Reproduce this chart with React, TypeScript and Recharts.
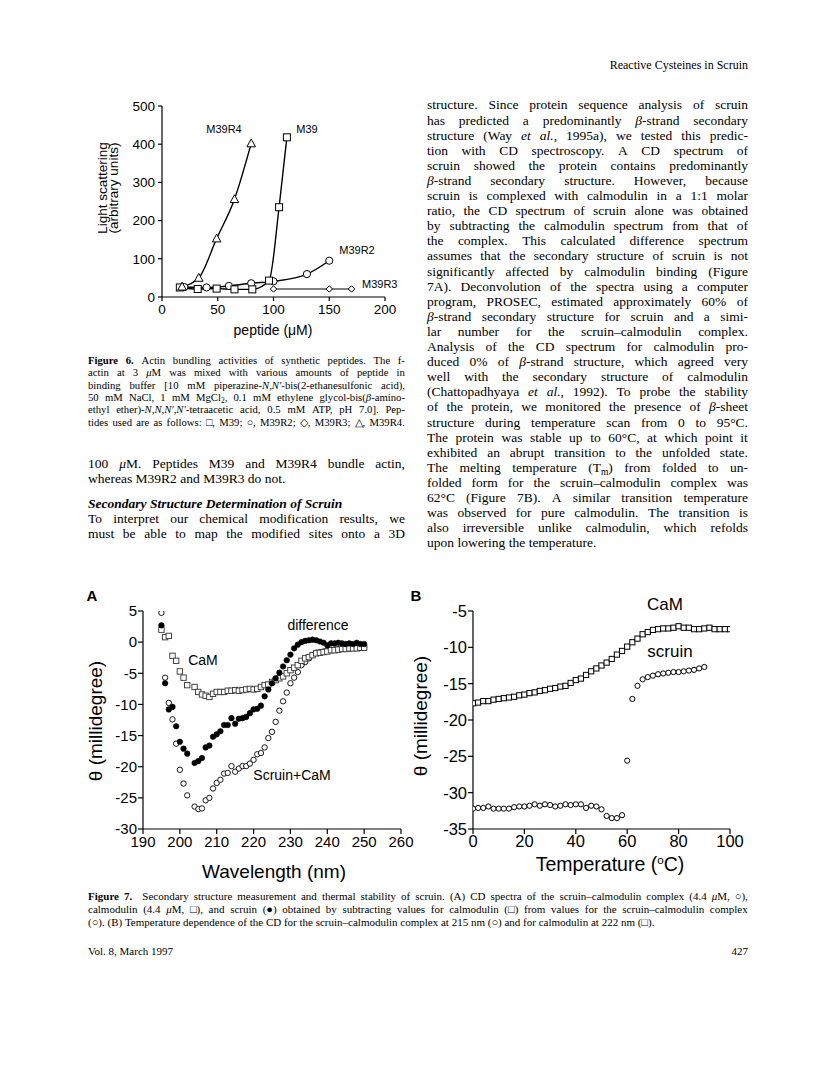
import React from 'react';
import { LineChart, Line, ScatterChart, Scatter, XAxis, YAxis } from 'recharts';

// ---------- Figure 6: actin bundling (light scattering vs peptide µM) ----------
const m39 = [
  { x: 16, y: 25 }, { x: 32, y: 21 }, { x: 49, y: 22 }, { x: 65, y: 20 },
  { x: 81, y: 20 }, { x: 96, y: 43 }, { x: 105, y: 235 }, { x: 112, y: 418 },
];
const m39r2 = [
  { x: 20, y: 26 }, { x: 40, y: 25 }, { x: 60, y: 29 }, { x: 80, y: 36 },
  { x: 100, y: 41 }, { x: 130, y: 60 }, { x: 150, y: 95 },
];
const m39r3 = [{ x: 100, y: 21 }, { x: 150, y: 21 }, { x: 170, y: 21 }];
const m39r4 = [
  { x: 18, y: 27 }, { x: 33, y: 50 }, { x: 49, y: 153 }, { x: 65, y: 256 }, { x: 80, y: 402 },
];
const fig6XTicks = [0, 50, 100, 150, 200];
const fig6YTicks = [0, 100, 200, 300, 400, 500];

// ---------- Figure 7A: CD spectra ----------
const wavelengthNm = [
  195, 196, 197, 198, 199, 200, 201, 202, 204, 205, 206, 207, 208, 209, 210, 211, 212, 213, 214,
  215, 216, 217, 218, 219, 220, 221, 222, 223, 224, 225, 226, 227, 228, 229, 230, 231, 232, 233,
  234, 235, 236, 237, 238, 239, 240, 241, 242, 243, 244, 245, 246, 247, 248, 249, 250,
];
const scruinCaM = [
  4.7, -5.7, -9.75, -12.4, -16.3, -20.5, -22.7, -24.6, -26.4, -26.8, -26.7, -25.4, -25.0, -23.5,
  -22.6, -22.1, -21.1, -21.0, -19.9, -20.8, -20.3, -19.9, -19.9, -19.5, -18.9, -18.0, -17.8, -16.9,
  -15.4, -14.4, -12.8, -11.0, -9.5, -8.1, -6.6, -5.7, -4.8, -3.7, -3.2, -2.6, -2.1, -1.7, -1.6,
  -1.5, -1.4, -1.3, -1.2, -1.1, -1.1, -1.0, -1.0, -0.9, -0.9, -0.8, -0.8,
];
const calmodulin = [
  2.0, 0.8, 1.0, -2.2, -3.0, -4.7, -5.7, -6.9, -7.2, -8.0, -8.4, -8.6, -8.8, -8.3, -8.0, -8.0,
  -8.0, -7.8, -7.8, -7.7, -7.8, -7.7, -7.6, -7.5, -7.6, -7.5, -7.2, -6.9, -6.8, -6.4, -6.1, -5.8,
  -5.5, -5.0, -4.5, -4.1, -3.7, -3.0, -2.6, -2.4, -2.1, -1.8, -1.7, -1.6, -1.5, -1.3, -1.3, -1.2,
  -1.1, -1.1, -1.0, -1.0, -1.0, -0.9, -0.9,
];
const difference = [
  2.7, -6.6, -10.8, -10.4, -13.5, -16.0, -17.1, -17.9, -19.4, -19.1, -18.6, -16.9, -16.6, -15.2,
  -14.8, -14.3, -13.3, -13.3, -12.2, -13.1, -12.3, -12.2, -12.0, -11.4, -10.8, -10.7, -10.2, -8.7,
  -7.6, -6.6, -5.8, -4.9, -3.9, -2.9, -2.0, -1.0, -0.4, 0.0, 0.2, 0.3, 0.4, 0.3, 0.1, -0.1, -0.5,
  -0.2, -0.2, -0.1, -0.2, -0.3, -0.2, -0.3, -0.1, -0.3, -0.3,
];
const fig7aXTicks = [190, 200, 210, 220, 230, 240, 250, 260];
const fig7aYTicks = [-30, -25, -20, -15, -10, -5, 0, 5];

// ---------- Figure 7B: thermal melt ----------
const tempCaM = [
  0, 2, 4, 6, 8, 10, 12, 14, 16, 18, 20, 22, 24, 26, 28, 30, 32, 34, 36, 38, 40, 42, 44, 46, 48,
  50, 52, 54, 56, 58, 60, 62, 64, 66, 68, 70, 72, 74, 76, 78, 80, 82, 84, 86, 88, 90, 92, 94, 96,
  98, 100,
];
const thetaCaM = [
  -17.7, -17.6, -17.4, -17.4, -17.2, -17.1, -17.0, -16.9, -16.8, -16.6, -16.5, -16.3, -16.2, -16.0,
  -15.9, -15.7, -15.6, -15.4, -15.3, -14.9, -14.5, -14.3, -13.8, -13.3, -12.9, -12.5, -12.1, -11.6,
  -11.0, -10.5, -9.9, -9.3, -8.8, -8.2, -7.9, -7.6, -7.5, -7.4, -7.4, -7.3, -7.1, -7.3, -7.3, -7.5,
  -7.5, -7.4, -7.3, -7.5, -7.5, -7.5, -7.5,
];
const tempScruin = [
  0, 2, 4, 6, 8, 10, 12, 14, 16, 18, 20, 22, 24, 26, 28, 30, 32, 34, 36, 38, 40, 42, 44, 46, 48,
  50, 52, 54, 56, 58, 60, 62, 64, 66, 68, 70, 72, 74, 76, 78, 80, 82, 84, 86, 88, 90,
];
const thetaScruin = [
  -32.2, -32.1, -32.1, -31.9, -32.2, -32.2, -32.2, -32.2, -32.0, -31.9, -31.9, -31.8, -31.6, -31.8,
  -31.6, -31.7, -31.9, -31.8, -31.6, -31.7, -31.6, -31.6, -32.1, -31.8, -31.9, -32.3, -33.2, -33.5,
  -33.5, -33.1, -25.6, -17.1, -15.3, -14.4, -14.1, -13.9, -13.7, -13.6, -13.5, -13.4, -13.4, -13.3,
  -13.2, -13.1, -12.9, -12.7,
];
const fig7bXTicks = [0, 20, 40, 60, 80, 100];
const fig7bYTicks = [-35, -30, -25, -20, -15, -10, -5];

const pts = (xs: number[], ys: number[]) => xs.map((x, i) => ({ x, y: ys[i] }));
const specScruinCaM = pts(wavelengthNm, scruinCaM);
const specCaM = pts(wavelengthNm, calmodulin);
const specDiff = pts(wavelengthNm, difference);
const meltCaM = pts(tempCaM, thetaCaM);
const meltScruin = pts(tempScruin, thetaScruin);

const SANS = '"Liberation Sans", Arial, Helvetica, sans-serif';
const SERIF = '"Liberation Serif", "Times New Roman", serif';

// ---------- marker shapes ----------
const squareDot = (size: number, stroke: string, sw: number, tag: string) => (p: any) => (
  <rect key={`${tag}-${p.index}`} x={p.cx - size / 2} y={p.cy - size / 2} width={size} height={size}
    fill="#fff" stroke={stroke} strokeWidth={sw} />
);
const circleDot = (r: number, fill: string, sw: number, tag: string) => (p: any) => (
  <circle key={`${tag}-${p.index}`} cx={p.cx} cy={p.cy} r={r} fill={fill} stroke="#000" strokeWidth={sw} />
);
const triDot = (s: number, tag: string) => (p: any) => (
  <polygon key={`${tag}-${p.index}`}
    points={`${p.cx},${p.cy - s} ${p.cx + s * 0.95},${p.cy + s * 0.75} ${p.cx - s * 0.95},${p.cy + s * 0.75}`}
    fill="#fff" stroke="#000" strokeWidth={1} />
);
const diaDot = (s: number, tag: string) => (p: any) => (
  <polygon key={`${tag}-${p.index}`}
    points={`${p.cx},${p.cy - s} ${p.cx + s},${p.cy} ${p.cx},${p.cy + s} ${p.cx - s},${p.cy}`}
    fill="#fff" stroke="#000" strokeWidth={1} />
);

// ---------- text helpers ----------
function rich(s: string) {
  const parts = s.split(/(_[^_]+_|~[^~]+~|\*[^*]+\*)/).filter((p) => p !== '');
  return parts.map((p, i) => {
    if (p.length > 2 && p[0] === '_' && p[p.length - 1] === '_') return <i key={i}>{p.slice(1, -1)}</i>;
    if (p.length > 2 && p[0] === '*' && p[p.length - 1] === '*') return <b key={i}>{p.slice(1, -1)}</b>;
    if (p.length > 2 && p[0] === '~' && p[p.length - 1] === '~')
      return <span key={i} style={{ fontSize: '0.7em', position: 'relative', top: '0.3em' }}>{p.slice(1, -1)}</span>;
    return <React.Fragment key={i}>{p}</React.Fragment>;
  });
}

function JLine(props: { text: string; x: number; y: number; w: number; fs: number; lh: number; last?: boolean; style?: any }) {
  const { text, x, y, w, fs, lh, last, style } = props;
  const words = text.split(' ');
  return (
    <div style={{
      position: 'absolute', left: x, top: y - lh / 2, width: w, height: lh, lineHeight: `${lh}px`,
      fontSize: fs, fontFamily: SERIF, display: 'flex', justifyContent: last ? 'flex-start' : 'space-between',
      whiteSpace: 'pre', color: '#000', ...style,
    }}>
      {words.map((wd, i) => (
        <span key={i} style={{ marginRight: last && i < words.length - 1 ? '0.25em' : 0 }}>{rich(wd)}</span>
      ))}
    </div>
  );
}

function T(props: { x: number; y: number; fs: number; children: any; anchor?: string; font?: string; weight?: any; rotate?: number; style?: any }) {
  const { x, y, fs, children, anchor = 'middle', font = SANS, weight, rotate, style } = props;
  const tx = anchor === 'middle' ? '-50%' : anchor === 'end' ? '-100%' : '0';
  return (
    <div style={{
      position: 'absolute', left: x, top: y, transform: `translate(${tx}, -50%)${rotate ? ` rotate(${rotate}deg)` : ''}`,
      fontSize: fs, fontFamily: font, fontWeight: weight, whiteSpace: 'nowrap', lineHeight: 1, color: '#000', ...style,
    }}>{children}</div>
  );
}

const axisStroke = { stroke: '#000', strokeWidth: 1.2 };

function Fig6() {
  const tick = { fontSize: 13.5, fontFamily: SANS, fill: '#000' };
  return (
    <div style={{ position: 'absolute', left: 90, top: 95 }}>
      <LineChart width={320} height={250} margin={{ top: 11, right: 25, bottom: 18, left: 32 }}>
        <XAxis type="number" dataKey="x" domain={[0, 200]} ticks={fig6XTicks} interval={0} tick={tick}
          tickLine={axisStroke} axisLine={axisStroke} tickSize={4} tickMargin={3} height={30} allowDataOverflow />
        <YAxis type="number" dataKey="y" domain={[0, 500]} ticks={fig6YTicks} interval={0} tick={tick}
          tickLine={axisStroke} axisLine={axisStroke} tickSize={4} tickMargin={3} width={40} allowDataOverflow />
        <Line data={m39r3} dataKey="y" type="linear" stroke="#000" strokeWidth={1.2} dot={diaDot(3.2, 'r3')} isAnimationActive={false} />
        <Line data={m39r2} dataKey="y" type="monotone" stroke="#000" strokeWidth={1.4} dot={circleDot(3.6, '#fff', 1, 'r2')} isAnimationActive={false} />
        <Line data={m39} dataKey="y" type="monotone" stroke="#000" strokeWidth={1.4} dot={squareDot(7, '#000', 1, 'm39')} isAnimationActive={false} />
        <Line data={m39r4} dataKey="y" type="monotone" stroke="#000" strokeWidth={1.4} dot={triDot(4.5, 'r4')} isAnimationActive={false} />
      </LineChart>
    </div>
  );
}

function Fig7A() {
  const tick = { fontSize: 15, fontFamily: SANS, fill: '#000' };
  return (
    <div style={{ position: 'absolute', left: 80, top: 600 }}>
      <ScatterChart width={345} height={260} margin={{ top: 11, right: 24, bottom: 6, left: 18 }}>
        <XAxis type="number" dataKey="x" domain={[190, 260]} ticks={fig7aXTicks} interval={0} tick={tick}
          tickLine={axisStroke} axisLine={axisStroke} tickSize={5} tickMargin={2} height={25} allowDataOverflow />
        <YAxis type="number" dataKey="y" domain={[-30, 5]} ticks={fig7aYTicks} interval={0} tick={tick}
          tickLine={axisStroke} axisLine={axisStroke} tickSize={5} tickMargin={1} width={45} allowDataOverflow />
        <Scatter data={specScruinCaM} shape={circleDot(2.7, '#fff', 0.9, 'sc')} isAnimationActive={false} />
        <Scatter data={specCaM} shape={squareDot(5.4, '#333', 0.9, 'cam')} isAnimationActive={false} />
        <Scatter data={specDiff} shape={circleDot(2.8, '#000', 0.5, 'df')} isAnimationActive={false} />
      </ScatterChart>
    </div>
  );
}

function Fig7B() {
  const tick = { fontSize: 16.5, fontFamily: SANS, fill: '#000' };
  return (
    <div style={{ position: 'absolute', left: 410, top: 600 }}>
      <ScatterChart width={350} height={260} margin={{ top: 11, right: 30, bottom: 6, left: 18 }}>
        <XAxis type="number" dataKey="x" domain={[0, 100]} ticks={fig7bXTicks} interval={0} tick={tick}
          tickLine={axisStroke} axisLine={axisStroke} tickSize={5} tickMargin={1} height={25} allowDataOverflow />
        <YAxis type="number" dataKey="y" domain={[-35, -5]} ticks={fig7bYTicks} interval={0} tick={tick}
          tickLine={axisStroke} axisLine={axisStroke} tickSize={5} tickMargin={1} width={45} allowDataOverflow />
        <Scatter data={meltCaM} shape={squareDot(5.2, '#000', 1, 'mc')} isAnimationActive={false} />
        <Scatter data={meltScruin} shape={circleDot(2.6, '#fff', 1, 'ms')} isAnimationActive={false} />
      </ScatterChart>
    </div>
  );
}

const rightLines = [
  'structure. Since protein sequence analysis of scruin',
  'has predicted a predominantly _β_-strand secondary',
  'structure (Way _et_ _al._, 1995a), we tested this predic-',
  'tion with CD spectroscopy. A CD spectrum of',
  'scruin showed the protein contains predominantly',
  '_β_-strand secondary structure. However, because',
  'scruin is complexed with calmodulin in a 1:1 molar',
  'ratio, the CD spectrum of scruin alone was obtained',
  'by subtracting the calmodulin spectrum from that of',
  'the complex. This calculated difference spectrum',
  'assumes that the secondary structure of scruin is not',
  'significantly affected by calmodulin binding (Figure',
  '7A). Deconvolution of the spectra using a computer',
  'program, PROSEC, estimated approximately 60% of',
  '_β_-strand secondary structure for scruin and a simi-',
  'lar number for the scruin–calmodulin complex.',
  'Analysis of the CD spectrum for calmodulin pro-',
  'duced 0% of _β_-strand structure, which agreed very',
  'well with the secondary structure of calmodulin',
  '(Chattopadhyaya _et_ _al._, 1992). To probe the stability',
  'of the protein, we monitored the presence of _β_-sheet',
  'structure during temperature scan from 0 to 95°C.',
  'The protein was stable up to 60°C, at which point it',
  'exhibited an abrupt transition to the unfolded state.',
  'The melting temperature (T~m~) from folded to un-',
  'folded form for the scruin–calmodulin complex was',
  '62°C (Figure 7B). A similar transition temperature',
  'was observed for pure calmodulin. The transition is',
  'also irreversible unlike calmodulin, which refolds',
  'upon lowering the temperature.',
];

const fig6Caption = [
  '*Figure* *6.* Actin bundling activities of synthetic peptides. The f-',
  'actin at 3 _μ_M was mixed with various amounts of peptide in',
  'binding buffer [10 mM piperazine-_N,N′_-bis(2-ethanesulfonic acid),',
  '50 mM NaCl, 1 mM MgCl~2~, 0.1 mM ethylene glycol-bis(_β_-amino-',
  'ethyl ether)-_N,N,N′,N′_-tetraacetic acid, 0.5 mM ATP, pH 7.0]. Pep-',
  'tides used are as follows: □, M39; ○, M39R2; ◇, M39R3; △, M39R4.',
];

const fig7Caption = [
  '*Figure* *7.*  Secondary structure measurement and thermal stability of scruin. (A) CD spectra of the scruin–calmodulin complex (4.4 _μ_M, ○),',
  'calmodulin (4.4 _μ_M, □), and scruin (●) obtained by subtracting values for calmodulin (□) from values for the scruin–calmodulin complex',
  '(○). (B) Temperature dependence of the CD for the scruin–calmodulin complex at 215 nm (○) and for calmodulin at 222 nm (□).',
];

export default function App() {
  const LX = 88, LW = 317, RX = 427, RW = 321;
  const BFS = 13.5, BLH = 15.1;
  return (
    <div style={{ position: 'absolute', left: 0, top: 0, width: 816, height: 1077, background: '#fff', overflow: 'hidden' }}>
      {/* running header */}
      <T x={748} y={65} fs={12} anchor="end" font={SERIF}>Reactive Cysteines in Scruin</T>

      {/* Figure 6 */}
      <Fig6 />
      <T x={108} y={188} fs={13.5} rotate={-90} style={{ textAlign: 'center', lineHeight: '11px' }}>
        Light scattering<br />(arbitrary units)
      </T>
      <T x={273} y={330} fs={14}>peptide (μM)</T>
      <T x={224} y={129} fs={11}>M39R4</T>
      <T x={307} y={129} fs={11}>M39</T>
      <T x={357} y={250} fs={11}>M39R2</T>
      <T x={362} y={284} fs={11} anchor="start">M39R3</T>

      {fig6Caption.map((t, i) => (
        <JLine key={`c6-${i}`} text={t} x={LX} y={360 + 12.4 * i} w={LW} fs={10.7} lh={12.4} />
      ))}

      {/* left column body */}
      <JLine text="100 _μ_M. Peptides M39 and M39R4 bundle actin," x={LX} y={464} w={LW} fs={BFS} lh={BLH} />
      <JLine text="whereas M39R2 and M39R3 do not." x={LX} y={478.5} w={LW} fs={BFS} lh={BLH} last />
      <JLine text="Secondary Structure Determination of Scruin" x={LX} y={503.5} w={LW} fs={BFS} lh={BLH} last
        style={{ fontWeight: 'bold', fontStyle: 'italic' }} />
      <JLine text="To interpret our chemical modification results, we" x={LX} y={518.5} w={LW} fs={BFS} lh={BLH} />
      <JLine text="must be able to map the modified sites onto a 3D" x={LX} y={533.5} w={LW} fs={BFS} lh={BLH} />

      {/* right column body */}
      {rightLines.map((t, i) => (
        <JLine key={`r-${i}`} text={t} x={RX} y={105 + BLH * i} w={RW} fs={BFS} lh={BLH} last={i === rightLines.length - 1} />
      ))}

      {/* Figure 7A */}
      <Fig7A />
      <T x={92} y={595} fs={15} weight="bold">A</T>
      <T x={95} y={721} fs={19} rotate={-90}>θ (millidegree)</T>
      <T x={274} y={871} fs={19}>Wavelength (nm)</T>
      <T x={203} y={660} fs={14}>CaM</T>
      <T x={318} y={625} fs={14}>difference</T>
      <T x={292} y={775} fs={14}>Scruin+CaM</T>

      {/* Figure 7B */}
      <Fig7B />
      <T x={416} y={595} fs={15} weight="bold">B</T>
      <T x={420} y={716} fs={19} rotate={-90}>θ (millidegree)</T>
      <T x={610} y={864} fs={19.5}>Temperature (<sup style={{ fontSize: '0.6em' }}>o</sup>C)</T>
      <T x={665} y={604} fs={17}>CaM</T>
      <T x={670} y={651} fs={17}>scruin</T>

      {/* Figure 7 caption */}
      {fig7Caption.map((t, i) => (
        <JLine key={`c7-${i}`} text={t} x={LX} y={896 + 13 * i} w={748 - LX} fs={11} lh={13} last={i === fig7Caption.length - 1} />
      ))}

      {/* footer */}
      <T x={LX} y={951} fs={11} anchor="start" font={SERIF}>Vol. 8, March 1997</T>
      <T x={748} y={951} fs={11} anchor="end" font={SERIF}>427</T>
    </div>
  );
}
